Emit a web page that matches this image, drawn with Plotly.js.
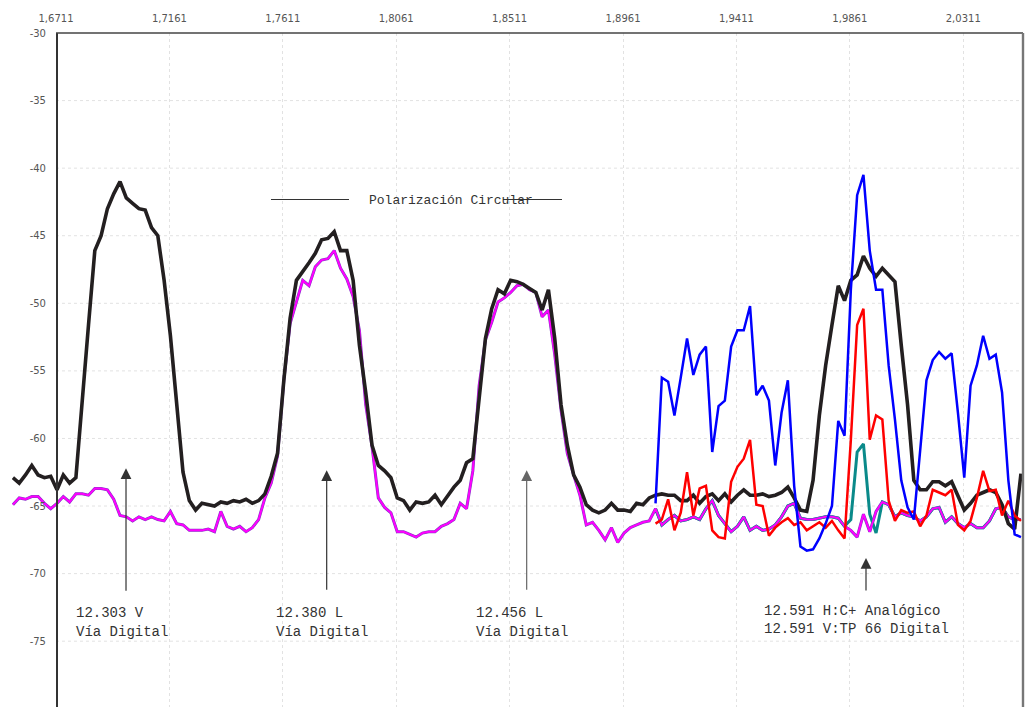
<!DOCTYPE html>
<html>
<head>
<meta charset="utf-8">
<script src="https://cdn.plot.ly/plotly-3.0.1.min.js"></script>
<style>html,body{margin:0;padding:0;background:#fff;}#chart{width:1029px;height:707px;}</style>
</head>
<body>
<div id="chart"></div>
<script>
// Frequency sweep (GHz, IF) – full span
const freq = [1.654,1.6565,1.659,1.6615,1.664,1.6665,1.669,1.6715,1.674,1.6765,
1.679,1.6815,1.684,1.6865,1.689,1.6915,1.694,1.6965,1.699,1.7015,
1.704,1.7065,1.709,1.7115,1.714,1.7165,1.719,1.7215,1.724,1.7265,
1.729,1.7315,1.734,1.7365,1.739,1.7415,1.744,1.7465,1.749,1.7515,
1.754,1.7565,1.759,1.7615,1.764,1.7665,1.769,1.7715,1.774,1.7765,
1.779,1.7815,1.784,1.7865,1.789,1.7915,1.794,1.7965,1.799,1.8015,
1.804,1.8065,1.809,1.8115,1.814,1.8165,1.819,1.8215,1.824,1.8265,
1.829,1.8315,1.834,1.8365,1.839,1.8415,1.844,1.8465,1.849,1.8515,
1.854,1.8565,1.859,1.8615,1.864,1.8665,1.869,1.8715,1.874,1.8765,
1.879,1.8815,1.884,1.8865,1.889,1.8915,1.894,1.8965,1.899,1.9015,
1.904,1.9065,1.909,1.9115,1.914,1.9165,1.919,1.9215,1.924,1.9265,
1.929,1.9315,1.934,1.9365,1.939,1.9415,1.944,1.9465,1.949,1.9515,
1.954,1.9565,1.959,1.9615,1.964,1.9665,1.969,1.9715,1.974,1.9765,
1.979,1.9815,1.984,1.9865,1.989,1.9915,1.994,1.9965,1.999,2.0015,
2.004,2.0065,2.009,2.0115,2.014,2.0165,2.019,2.0215,2.024,2.0265,
2.029,2.0315,2.034,2.0365,2.039,2.0415,2.044,2.0465,2.049,2.0515,
2.054];

// Circular polarisation level (black)
const circular = [-62.9,-63.3,-62.7,-62.0,-62.7,-62.9,-62.8,-63.8,-62.7,-63.3,
-62.9,-56.9,-51.6,-46.1,-45.0,-43.0,-41.9,-41.0,-42.2,-42.6,
-43.0,-43.1,-44.4,-45.0,-48.3,-52.4,-57.5,-62.5,-64.6,-65.3,
-64.8,-64.9,-65.0,-64.7,-64.8,-64.6,-64.7,-64.5,-64.8,-64.6,
-64.1,-62.8,-61.1,-55.7,-51.1,-48.3,-47.7,-47.0,-46.3,-45.3,
-45.2,-44.7,-46.1,-46.1,-48.3,-53.1,-56.6,-60.5,-62.0,-62.4,
-62.9,-64.4,-64.6,-65.3,-64.7,-64.8,-64.7,-64.2,-64.9,-64.2,
-63.6,-63.1,-61.8,-61.5,-57.2,-52.6,-50.4,-49.0,-49.3,-48.3,
-48.4,-48.6,-48.9,-49.2,-50.5,-49.0,-52.6,-57.5,-60.5,-62.7,
-63.6,-64.9,-65.3,-65.5,-65.3,-64.8,-65.3,-65.3,-65.4,-64.8,
-64.9,-64.4,-64.2,-64.1,-64.2,-64.2,-64.6,-64.6,-64.2,-64.8,
-64.3,-64.1,-64.6,-64.1,-64.7,-64.2,-63.8,-64.2,-64.2,-64.1,
-64.3,-64.2,-64.0,-63.6,-64.4,-65.3,-65.4,-63.1,-58.3,-54.6,
-51.6,-48.7,-49.8,-48.3,-47.9,-46.5,-47.4,-48.0,-47.4,-47.9,
-48.4,-53.1,-57.5,-63.1,-63.8,-63.8,-63.2,-63.2,-63.5,-63.2,
-64.3,-65.3,-64.8,-64.2,-64.0,-63.8,-64.0,-64.9,-66.3,-66.7,
-62.6];

// Second circular level (magenta, purple outline)
const circular2 = [-64.9,-64.4,-64.5,-64.3,-64.3,-64.8,-65.2,-64.8,-64.3,-64.7,
-64.1,-64.1,-64.2,-63.7,-63.7,-63.8,-64.5,-65.7,-65.8,-66.1,
-65.8,-66.0,-65.8,-66.0,-66.1,-65.4,-66.3,-66.4,-66.8,-66.8,
-66.8,-66.7,-66.9,-65.4,-66.5,-66.7,-66.5,-66.9,-66.6,-66.0,
-64.4,-63.3,-61.3,-55.7,-51.5,-49.9,-48.3,-48.7,-47.3,-46.8,
-46.7,-46.1,-47.4,-48.2,-49.5,-52.0,-57.5,-60.6,-64.4,-65.1,
-65.5,-66.9,-66.9,-67.1,-67.3,-67.0,-66.9,-66.9,-66.5,-66.3,
-66.0,-64.8,-65.2,-62.4,-56.1,-52.7,-51.4,-49.9,-49.6,-49.2,
-48.7,-48.6,-49.0,-49.2,-51.0,-50.5,-53.8,-57.9,-61.1,-62.7,
-64.2,-66.4,-66.2,-66.8,-67.5,-66.6,-67.7,-67.0,-66.6,-66.4,
-66.2,-66.1,-65.2,-66.4,-66.0,-65.7,-66.1,-66.0,-65.8,-66.0,
-65.2,-64.6,-65.7,-66.3,-66.9,-66.5,-65.8,-66.8,-66.5,-66.8,
-66.7,-66.4,-65.8,-65.0,-64.8,-65.9,-66.0,-66.0,-65.9,-65.8,
-65.8,-65.9,-66.5,-66.8,-67.3,-65.6,-66.9,-65.4,-64.7,-64.9,
-65.8,-65.5,-65.7,-65.8,-66.1,-65.8,-65.2,-65.1,-66.2,-65.8,
-66.3,-66.6,-66.3,-66.6,-66.6,-66.1,-65.2,-65.1,-65.8,-66.0,
-66.0];

// Right part of the sweep (linear polarisation traces)
const freqR = [1.909,1.9115,1.914,1.9165,1.919,1.9215,1.924,1.9265,1.929,1.9315,
1.934,1.9365,1.939,1.9415,1.944,1.9465,1.949,1.9515,1.954,1.9565,
1.959,1.9615,1.964,1.9665,1.969,1.9715,1.974,1.9765,1.979,1.9815,
1.984,1.9865,1.989,1.9915,1.994,1.9965,1.999,2.0015,2.004,2.0065,
2.009,2.0115,2.014,2.0165,2.019,2.0215,2.024,2.0265,2.029,2.0315,
2.034,2.0365,2.039,2.0415,2.044,2.0465,2.049,2.0515,2.054];

const blueLevel = [-64.8,-55.5,-55.8,-58.3,-55.5,-52.6,-55.3,-53.8,-53.2,-61.0,
-57.6,-57.2,-53.2,-52.0,-52.0,-50.2,-56.8,-56.1,-57.2,-62.0,
-58.1,-55.7,-63.5,-68.0,-68.3,-68.2,-67.4,-66.3,-65.0,-58.7,
-59.8,-49.0,-42.0,-40.5,-46.1,-49.0,-49.0,-54.6,-58.6,-63.1,
-65.1,-66.0,-60.9,-55.7,-54.2,-53.6,-54.1,-53.7,-58.1,-62.9,
-56.1,-54.6,-52.4,-54.1,-53.8,-56.6,-63.1,-67.1,-67.3];

const redLevel = [-66.3,-66.0,-64.5,-66.8,-65.5,-62.5,-65.7,-63.7,-63.5,-66.8,
-67.3,-67.4,-63.2,-62.1,-61.5,-60.1,-64.9,-65.0,-67.2,-66.6,
-66.2,-65.9,-66.4,-66.2,-66.8,-66.5,-66.2,-66.6,-66.1,-66.8,
-67.4,-60.1,-51.6,-50.4,-60.1,-58.3,-58.6,-64.6,-66.1,-65.3,
-65.5,-65.4,-66.5,-65.7,-63.8,-64.0,-64.2,-63.8,-66.4,-66.8,
-66.1,-64.4,-62.4,-63.9,-63.8,-65.7,-64.6,-65.7,-66.1];

const tealLevel = [-65.2,-66.4,-66.0,-65.7,-66.1,-66.0,-65.8,-66.0,-65.2,-64.6,
-65.7,-66.3,-66.9,-66.5,-65.8,-66.8,-66.5,-66.8,-66.7,-66.4,
-65.8,-65.0,-64.8,-65.9,-66.0,-66.0,-65.9,-65.8,-65.8,-65.9,
-66.5,-66.0,-61.0,-60.4,-65.6,-67.0,-64.7,-64.9,-65.8,-65.5,
-65.7,-65.8,-66.1,-65.8,-65.2,-65.1,-66.2,-65.8,-66.3,-66.6,
-66.3,-66.6,-66.6,-66.1,-65.2,-65.1,-65.8,-66.0,-66.0];

// Axis ticks
const xTickVals = [1.6711,1.7161,1.7611,1.8061,1.8511,1.8961,1.9411,1.9861,2.0311];
const xTickText = ['1,6711','1,7161','1,7611','1,8061','1,8511','1,8961','1,9411','1,9861','2,0311'];
const yTickVals = [-30,-35,-40,-45,-50,-55,-60,-65,-70,-75];
const yTickText = ['-30','-35','-40','-45','-50','-55','-60','-65','-70','-75'];

// Channel markers and labels
const chanX = [1.69888,1.77851,1.85787,1.99251];
const chanLine1 = ['12.303 V','12.380 L','12.456 L'];
const chanLine2 = ['Vía Digital','Vía Digital','Vía Digital'];
const chanTextX = [1.67824,1.75760,1.83697];
const analogLines = ['12.591 H:C+ Analógico','12.591 V:TP 66 Digital'];
const titleText = 'Polarización Circular';

const X0 = 1.653641, X1 = 2.05481, AXPOS = 0.04352;

const traces = [
  {x: freq, y: circular2, mode:'lines', line:{color:'#7d3cc2', width:3}, hoverinfo:'skip'},
  {x: freqR, y: tealLevel, mode:'lines', line:{color:'#0a8a8a', width:3}, hoverinfo:'skip'},
  {x: freq, y: circular2, mode:'lines', line:{color:'#ff00ff', width:2}, hoverinfo:'skip'},
  {x: freq, y: circular, mode:'lines', line:{color:'#231f20', width:3.6}, hoverinfo:'skip'},
  {x: freqR, y: redLevel, mode:'lines', line:{color:'#ff0000', width:2.5}, hoverinfo:'skip'},
  {x: freqR, y: blueLevel, mode:'lines', line:{color:'#0000ff', width:2.5}, hoverinfo:'skip'}
];

const gridDash = '3px,3px';
const shapes = [];
yTickVals.slice(1).forEach(v => shapes.push({type:'line', xref:'paper', yref:'y', x0:AXPOS, x1:1, y0:v, y1:v,
  line:{color:'#e2e2e2', width:1, dash:gridDash}, layer:'below'}));
shapes.push({type:'line', xref:'paper', yref:'paper', x0:AXPOS, x1:1, y0:1, y1:1, line:{color:'#444', width:1.6}});
shapes.push({type:'line', xref:'paper', yref:'paper', x0:1, x1:1, y0:0, y1:1, line:{color:'#777', width:2.4}});
shapes.push({type:'line', xref:'x', yref:'y', x0:1.75641, x1:1.78736, y0:-42.32, y1:-42.32, line:{color:'#333', width:1}});
shapes.push({type:'line', xref:'x', yref:'y', x0:1.84847, x1:1.87188, y0:-42.32, y1:-42.32, line:{color:'#333', width:1}});

const mono = {family:'Liberation Mono, Courier New, monospace', size:14, color:'#333'};
const annotations = [];
const tipY = [-62.2,-62.35,-62.35,-68.85];
const tailOff = [124,121,121,34];
chanX.forEach((cx,i) => annotations.push({x:cx, y:tipY[i], xref:'x', yref:'y', text:'', showarrow:true,
  ax:0, ay:tailOff[i], arrowhead:2, arrowsize:1.8, arrowwidth:1.2, arrowcolor: i===2 ? '#666' : '#333'}));
chanLine1.forEach((t,i) => {
  annotations.push({x:chanTextX[i], y:-72.92, xref:'x', yref:'y', text:t, showarrow:false, xanchor:'left', yanchor:'middle', font:mono});
  annotations.push({x:chanTextX[i], y:-74.33, xref:'x', yref:'y', text:chanLine2[i], showarrow:false, xanchor:'left', yanchor:'middle', font:mono});
});
annotations.push({x:1.95124, y:-72.77, xref:'x', yref:'y', text:analogLines[0], showarrow:false, xanchor:'left', yanchor:'middle', font:mono});
annotations.push({x:1.95124, y:-74.10, xref:'x', yref:'y', text:analogLines[1], showarrow:false, xanchor:'left', yanchor:'middle', font:mono});
annotations.push({x:1.79450, y:-42.43, xref:'x', yref:'y', text:titleText, showarrow:false, xanchor:'left', yanchor:'middle',
  font:{family:'Liberation Mono, Courier New, monospace', size:13, color:'#333'}});
annotations.push({x:AXPOS, y:-80, xref:'paper', yref:'y', text:'-80', showarrow:false, xanchor:'right', yanchor:'middle', xshift:-8,
  font:{family:'DejaVu Sans', size:10, color:'#555'}});

const tickFont = {family:'DejaVu Sans, Verdana, sans-serif', size:10, color:'#555'};
const layout = {
  width:1029, height:707,
  margin:{l:12, r:6, t:33, b:0, pad:0},
  paper_bgcolor:'#ffffff', plot_bgcolor:'#ffffff',
  showlegend:false,
  xaxis:{range:[X0, X1], side:'top', tickmode:'array', tickvals:xTickVals, ticktext:xTickText,
    showgrid:true, gridcolor:'#e2e2e2', gridwidth:1, griddash:gridDash, zeroline:false, showline:false,
    ticks:'', tickfont:tickFont, ticklabelstandoff:8, fixedrange:true},
  yaxis:{range:[-79.87, -30], anchor:'free', position:AXPOS, tickmode:'array', tickvals:yTickVals, ticktext:yTickText,
    showgrid:false, zeroline:false, showline:true, linecolor:'#333', linewidth:1.6,
    ticks:'', tickfont:tickFont, ticklabelstandoff:8, fixedrange:true},
  shapes: shapes,
  annotations: annotations
};

Plotly.newPlot('chart', traces, layout, {displayModeBar:false, staticPlot:true});
</script>
</body>
</html>
